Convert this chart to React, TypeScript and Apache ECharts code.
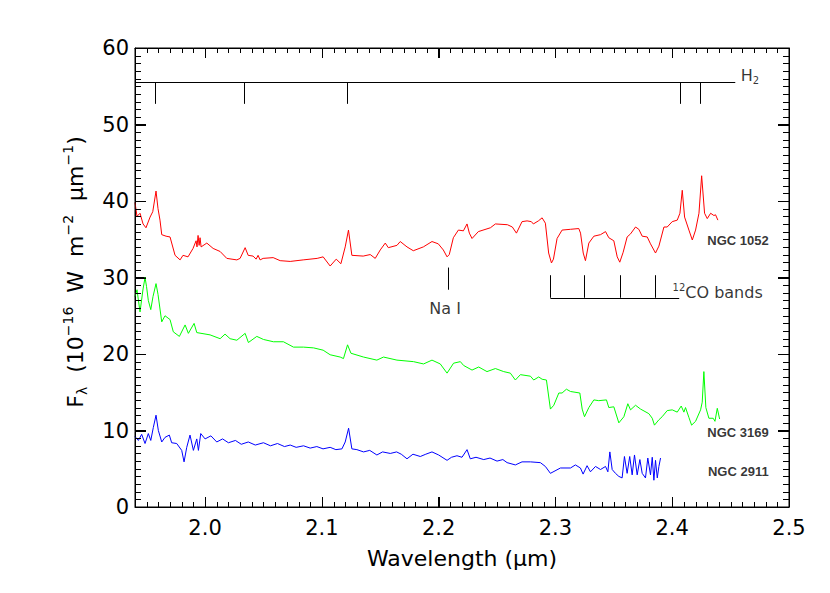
import React, { useEffect, useRef } from 'react';
import * as echarts from 'echarts';

// ---- Spectra (wavelength in micron, flux in 1e-16 W m^-2 um^-1) ----
const WAVE_RED = [1.940,1.9417,1.9443,1.9469,1.9494,1.9529,1.9552,1.958,1.9597,1.9614,1.9629,1.9666,1.970,1.9743,1.9786,1.9811,1.9854,1.9897,1.9923,1.9931,1.994,1.9949,1.9957,1.9966,2.0015,2.0069,2.0129,2.0186,2.0272,2.030,2.0343,2.0369,2.0411,2.0437,2.0454,2.0471,2.0497,2.0583,2.0643,2.0729,2.084,2.096,2.1011,2.1071,2.1123,2.1163,2.120,2.1228,2.1257,2.1354,2.1414,2.1457,2.150,2.1543,2.1569,2.1643,2.1671,2.1729,2.1783,2.1869,2.1943,2.1997,2.204,2.2072,2.2091,2.2126,2.2169,2.2212,2.2243,2.2263,2.2286,2.234,2.2443,2.2486,2.2589,2.2631,2.2666,2.2714,2.2757,2.2794,2.2811,2.2854,2.2886,2.2914,2.2942,2.2966,2.2983,2.3014,2.3057,2.3129,2.320,2.3215,2.3238,2.3257,2.3286,2.3329,2.3386,2.3429,2.3457,2.350,2.3529,2.3551,2.358,2.3614,2.3643,2.3686,2.3714,2.3743,2.3786,2.3814,2.3857,2.3886,2.3929,2.3957,2.400,2.4043,2.4066,2.4086,2.4106,2.4143,2.4172,2.420,2.4229,2.4252,2.4277,2.430,2.4329,2.4357,2.4371,2.4391];
const FLUX_RED = [39.8,38.0,38.4,37.0,36.5,37.9,38.6,41.3,39.0,37.5,35.6,35.4,35.3,32.9,32.3,32.9,32.7,33.8,34.8,34.0,35.5,34.2,35.2,34.0,34.5,33.8,33.4,32.5,32.3,32.5,33.9,32.9,32.8,32.4,32.9,32.3,32.5,32.6,32.2,32.1,32.3,32.5,32.7,31.5,32.4,31.8,34.0,36.2,32.9,32.8,33.0,32.5,33.6,34.5,33.9,34.2,34.7,34.0,33.5,34.0,34.7,34.4,33.6,32.7,33.0,35.2,36.2,36.1,37.0,35.8,35.1,36.0,36.5,37.0,36.9,36.6,35.8,37.3,37.4,37.3,37.0,37.4,37.8,37.1,33.2,31.9,32.4,35.1,36.2,36.3,36.4,35.8,33.2,32.2,34.5,35.4,35.6,36.0,35.2,34.8,32.7,32.0,33.3,35.3,35.7,36.6,36.3,35.4,35.3,34.4,33.2,34.1,36.6,36.6,37.3,37.5,38.4,41.4,37.9,36.2,34.9,36.2,38.4,43.3,38.4,37.7,38.4,38.1,38.2,37.5];

const WAVE_GREEN = [1.940,1.9417,1.9443,1.9469,1.9486,1.9499,1.9514,1.9535,1.9554,1.958,1.9597,1.9629,1.9657,1.970,1.9728,1.978,1.9829,1.9857,1.9906,1.9929,2.0043,2.0129,2.0171,2.0214,2.0272,2.0343,2.0371,2.0443,2.050,2.0585,2.0671,2.0757,2.0843,2.0929,2.1011,2.1071,2.1157,2.1185,2.122,2.1249,2.1357,2.1471,2.1528,2.1643,2.1785,2.1871,2.1943,2.2014,2.2072,2.2128,2.2186,2.2214,2.2286,2.2343,2.2414,2.2486,2.2557,2.2614,2.2657,2.270,2.2786,2.2814,2.2857,2.2886,2.2923,2.2957,2.2986,2.3029,2.3057,2.3094,2.3129,2.3209,2.3229,2.3249,2.3286,2.3329,2.3371,2.3437,2.3457,2.350,2.3543,2.3586,2.362,2.3643,2.3686,2.3729,2.380,2.3829,2.3848,2.3886,2.3914,2.3957,2.400,2.4043,2.4077,2.410,2.4114,2.4143,2.4166,2.420,2.4243,2.4257,2.4271,2.4288,2.4314,2.4351,2.4366,2.4386,2.4406];
const FLUX_GREEN = [27.5,28.4,25.5,28.5,30.0,28.8,27.0,25.8,27.5,29.2,27.8,24.2,25.0,24.5,22.9,22.3,23.8,22.7,24.0,22.8,22.5,22.0,22.6,22.0,21.8,22.7,21.5,22.3,21.9,21.6,21.6,20.9,20.9,20.8,20.5,19.9,19.6,19.4,21.2,20.1,19.6,19.2,19.6,19.2,19.0,18.7,19.2,18.7,17.5,18.8,19.0,18.5,17.9,18.3,17.7,18.1,17.7,17.5,16.6,17.3,17.1,16.6,17.0,16.7,16.6,12.8,13.3,14.9,14.9,15.4,15.1,14.9,12.8,11.8,13.0,14.0,13.9,14.0,13.0,13.1,11.0,11.8,13.5,12.7,13.3,12.8,12.2,11.6,10.7,11.4,11.8,12.6,12.7,12.4,13.2,12.4,13.0,11.7,10.7,11.2,12.7,13.7,17.7,13.0,11.6,11.6,11.2,12.9,11.5];

const WAVE_BLUE = [1.940,1.9429,1.9457,1.9486,1.9514,1.9535,1.9557,1.958,1.960,1.9629,1.9657,1.9694,1.9714,1.9757,1.980,1.982,1.9843,1.9871,1.990,1.9929,1.9943,1.9963,2.000,2.005,2.010,2.015,2.020,2.026,2.031,2.037,2.043,2.050,2.056,2.062,2.068,2.0729,2.078,2.0843,2.090,2.0957,2.101,2.1071,2.112,2.1172,2.120,2.1229,2.1257,2.130,2.1357,2.141,2.1471,2.152,2.1586,2.164,2.168,2.1729,2.178,2.1843,2.189,2.1943,2.200,2.2072,2.211,2.2157,2.220,2.2243,2.2271,2.232,2.2386,2.244,2.250,2.255,2.2586,2.2657,2.2714,2.2786,2.2871,2.2914,2.2957,2.3043,2.3129,2.3171,2.3214,2.3237,2.3271,2.330,2.3343,2.3386,2.3429,2.3449,2.3466,2.3486,2.3514,2.3543,2.3571,2.3591,2.3614,2.3636,2.3657,2.3677,2.370,2.3723,2.3743,2.3771,2.3791,2.3814,2.3829,2.3843,2.3857,2.3872,2.3886,2.390];
const FLUX_BLUE = [9.2,8.7,9.5,8.3,9.6,8.7,10.4,12.0,10.0,8.5,9.1,9.4,8.4,8.3,7.4,5.9,7.8,9.4,7.4,8.9,7.4,9.6,8.9,9.3,8.5,8.9,8.4,8.7,8.2,8.5,8.1,8.4,8.0,8.3,7.9,8.1,7.8,8.0,7.7,7.9,7.6,7.8,7.5,7.6,8.5,10.3,7.6,7.5,7.2,7.4,6.8,7.2,7.0,7.2,6.9,6.3,6.9,6.6,6.9,7.2,6.8,6.1,6.5,6.7,6.5,7.5,6.3,6.5,6.2,6.4,6.0,6.2,5.8,5.5,5.9,5.9,5.8,5.3,4.4,5.1,5.1,5.5,5.1,4.3,5.4,4.6,5.3,4.9,5.3,4.6,7.2,4.9,4.4,4.0,3.8,6.6,4.4,6.6,4.2,6.8,4.2,6.2,4.4,3.8,6.4,4.2,6.5,3.5,6.1,3.8,5.3,6.4];

// ---- Line identifications ----
const H2_LINES = [1.9576, 2.0338, 2.1218, 2.4066, 2.4237];
const H2_LEVEL = 55.5;
const H2_TICK_BOTTOM = 52.7;
const H2_LINE_END = 2.454;
const NA_LINE = 2.2085;
const NA_RANGE = [28.4, 31.3];
const CO_BANDS = [2.2957, 2.3251, 2.3557, 2.3857];
const CO_BASE = 27.35;
const CO_TOP = 30.3;
const CO_LINE_END = 2.406;

// ---- Axes ----
const X_MIN = 1.94;
const X_MAX = 2.5;
const X_MAJOR_STEP = 0.1;
const X_MINOR_STEP = 0.01;
const Y_MIN = 0;
const Y_MAX = 60;
const Y_MAJOR_STEP = 10;
const Y_MINOR_STEP = 1;

const W = 830;
const H = 593;
const GRID = { left: 135, right: 41, top: 48, bottom: 86 };

const FONT = 'DejaVu Sans';

function pairs(w: number[], f: number[]) {
  const n = Math.min(w.length, f.length);
  const out: number[][] = [];
  for (let i = 0; i < n; i++) out.push([w[i], f[i]]);
  return out;
}

type Seg = { coord: number[] }[];
const seg = (x1: number, y1: number, x2: number, y2: number): Seg => [
  { coord: [x1, y1] },
  { coord: [x2, y2] },
];

// Inward minor/major box ticks (IDL style), one polyline per side of the frame,
// placed with the same linear mapping as the grid's value axes.
function buildTickPolylines() {
  const plotW = W - GRID.left - GRID.right;
  const plotH = H - GRID.top - GRID.bottom;
  const px = (x: number) => GRID.left + ((x - X_MIN) / (X_MAX - X_MIN)) * plotW;
  const py = (y: number) => GRID.top + ((Y_MAX - y) / (Y_MAX - Y_MIN)) * plotH;
  const crisp = (v: number) => Math.round(v) + 0.5;
  const yb = py(Y_MIN);
  const yt = py(Y_MAX);
  const xl = px(X_MIN);
  const xr = px(X_MAX);
  const bottom: number[][] = [[xl, yb]];
  const top: number[][] = [[xl, yt]];
  const left: number[][] = [[xl, yb]];
  const right: number[][] = [[xr, yb]];
  const nx = Math.round((X_MAX - X_MIN) / X_MINOR_STEP);
  for (let i = 1; i < nx; i++) {
    const v = Math.round((X_MIN + i * X_MINOR_STEP) * 1000) / 1000;
    const major = Math.abs(v / X_MAJOR_STEP - Math.round(v / X_MAJOR_STEP)) < 1e-6;
    const len = major ? 10 : 5;
    const x = crisp(px(v));
    bottom.push([x, yb], [x, yb - len], [x, yb]);
    top.push([x, yt], [x, yt + len], [x, yt]);
  }
  bottom.push([xr, yb]);
  top.push([xr, yt]);
  const ny = Math.round((Y_MAX - Y_MIN) / Y_MINOR_STEP);
  for (let i = 1; i < ny; i++) {
    const v = Y_MIN + i * Y_MINOR_STEP;
    const major = v % Y_MAJOR_STEP === 0;
    const len = major ? 11 : 6;
    const y = crisp(py(v));
    left.push([xl, y], [xl + len, y], [xl, y]);
    right.push([xr, y], [xr - len, y], [xr, y]);
  }
  left.push([xl, yt]);
  right.push([xr, yt]);
  const poly = (id: string, points: number[][]) => ({
    type: 'polyline',
    id,
    silent: true,
    z: 50,
    shape: { points },
    style: { stroke: '#000', lineWidth: 1, fill: 'none' },
  });
  return [
    poly('ticks-bottom', bottom),
    poly('ticks-top', top),
    poly('ticks-left', left),
    poly('ticks-right', right),
  ];
}

export default function App() {
  const ref = useRef<HTMLDivElement>(null);
  useEffect(() => {
    if (!ref.current) return;
    const chart = echarts.init(ref.current, null, { renderer: 'svg' });
    const annotationLines = [
      seg(X_MIN, H2_LEVEL, H2_LINE_END, H2_LEVEL),
      ...H2_LINES.map((x) => seg(x, H2_LEVEL, x, H2_TICK_BOTTOM)),
      seg(NA_LINE, NA_RANGE[0], NA_LINE, NA_RANGE[1]),
      seg(CO_BANDS[0], CO_BASE, CO_LINE_END, CO_BASE),
      ...CO_BANDS.map((x) => seg(x, CO_BASE, x, CO_TOP)),
    ];
    const xLabelFmt = (v: number) =>
      Math.abs(v * 10 - Math.round(v * 10)) < 1e-6 ? v.toFixed(1) : '';
    const mkX = (position: string, extra: any) => ({
      type: 'value',
      min: X_MIN,
      max: X_MAX,
      position,
      axisLine: { show: true, onZero: false, lineStyle: { color: '#000', width: 1 } },
      axisTick: { show: true, inside: true, length: 10, lineStyle: { color: '#000', width: 1 } },
      minorTick: { show: false },
      splitLine: { show: false },
      ...extra,
    });
    const mkY = (position: string, extra: any) => ({
      type: 'value',
      min: Y_MIN,
      max: Y_MAX,
      interval: Y_MAJOR_STEP,
      position,
      axisLine: { show: true, onZero: false, lineStyle: { color: '#000', width: 1 } },
      axisTick: { show: true, inside: true, length: 11, lineStyle: { color: '#000', width: 1 } },
      minorTick: { show: false },
      splitLine: { show: false },
      minorSplitLine: { show: false },
      ...extra,
    });
    const ngcLabel = {
      color: '#000',
      fontFamily: 'Liberation Sans',
      fontWeight: 'bold',
      fontSize: 13,
    };
    const yTitle = {
      type: 'text',
      id: 'ytitle',
      x: 75,
      y: 272,
      rotation: Math.PI / 2,
      silent: true,
      style: {
        text: '{n|F}{sub|λ}{n|  (10}{sup|−16}{n|  W  m}{sup|−2}{n|  μm}{sup|−1}{n|)}',
        align: 'center',
        verticalAlign: 'middle',
        fill: '#000',
        rich: {
          n: { fontSize: 22, fontFamily: FONT, fill: '#000', lineHeight: 28 },
          sub: { fontSize: 14, fontFamily: FONT, fill: '#000', lineHeight: 12, verticalAlign: 'bottom' },
          sup: { fontSize: 14, fontFamily: FONT, fill: '#000', lineHeight: 14, verticalAlign: 'top' },
        },
      },
    };
    chart.setOption({
      animation: false,
      backgroundColor: '#fff',
      grid: { ...GRID, containLabel: false },
      xAxis: [
        mkX('bottom', {
          axisLabel: { color: '#000', fontFamily: FONT, fontSize: 21, margin: 10, formatter: xLabelFmt, showMinLabel: false },
          name: 'Wavelength (μm)',
          nameLocation: 'middle',
          nameGap: 40,
          nameTextStyle: { color: '#000', fontFamily: FONT, fontSize: 22 },
        }),
        mkX('top', { axisLabel: { show: false } }),
      ],
      yAxis: [
        mkY('left', { axisLabel: { color: '#000', fontFamily: FONT, fontSize: 21, margin: 6 } }),
        mkY('right', { axisLabel: { show: false } }),
      ],
      graphic: [yTitle, ...buildTickPolylines()],
      series: [
        {
          name: 'NGC 1052',
          type: 'line',
          data: pairs(WAVE_RED, FLUX_RED),
          showSymbol: false,
          symbol: 'none',
          lineStyle: { color: '#ff0000', width: 1 },
          silent: true,
          z: 3,
        },
        {
          name: 'NGC 3169',
          type: 'line',
          data: pairs(WAVE_GREEN, FLUX_GREEN),
          showSymbol: false,
          symbol: 'none',
          lineStyle: { color: '#00ff00', width: 1 },
          silent: true,
          z: 3,
        },
        {
          name: 'NGC 2911',
          type: 'line',
          data: pairs(WAVE_BLUE, FLUX_BLUE),
          showSymbol: false,
          symbol: 'none',
          lineStyle: { color: '#0000ff', width: 1 },
          silent: true,
          z: 3,
          markLine: {
            silent: true,
            symbol: ['none', 'none'],
            label: { show: false },
            lineStyle: { color: '#000', width: 1, type: 'solid' },
            emphasis: { disabled: true },
            data: annotationLines,
          },
        },
        {
          name: 'labels',
          type: 'scatter',
          silent: true,
          symbolSize: 0.01,
          itemStyle: { color: 'transparent' },
          z: 6,
          data: [
            {
              value: [2.4586, 56.4],
              label: {
                show: true,
                position: 'right',
                distance: 0,
                formatter: '{a|H}{b|2}',
                rich: {
                  a: { fontSize: 16, fontFamily: FONT, color: '#000', lineHeight: 20 },
                  b: { fontSize: 10, fontFamily: FONT, color: '#000', lineHeight: 10, verticalAlign: 'bottom' },
                },
              },
            },
            {
              value: [2.2055, 26.0],
              label: { show: true, position: 'inside', formatter: 'Na I', color: '#000', fontFamily: FONT, fontSize: 16 },
            },
            {
              value: [2.4003, 28.1],
              label: {
                show: true,
                position: 'right',
                distance: 0,
                formatter: '{s|12}{t|CO bands}',
                rich: {
                  s: { fontSize: 10, fontFamily: FONT, color: '#000', lineHeight: 10, verticalAlign: 'top' },
                  t: { fontSize: 16, fontFamily: FONT, color: '#000', lineHeight: 20 },
                },
              },
            },
            { value: [2.4826, 34.9], label: { show: true, position: 'left', distance: 0, formatter: 'NGC 1052', ...ngcLabel } },
            { value: [2.4826, 9.8], label: { show: true, position: 'left', distance: 0, formatter: 'NGC 3169', ...ngcLabel } },
            { value: [2.4826, 4.7], label: { show: true, position: 'left', distance: 0, formatter: 'NGC 2911', ...ngcLabel } },
          ],
        },
      ],
    });
    return () => chart.dispose();
  }, []);
  return (
    <div
      ref={ref}
      style={{ position: 'fixed', left: 0, top: 0, width: W, height: H, background: '#fff' }}
    />
  );
}
